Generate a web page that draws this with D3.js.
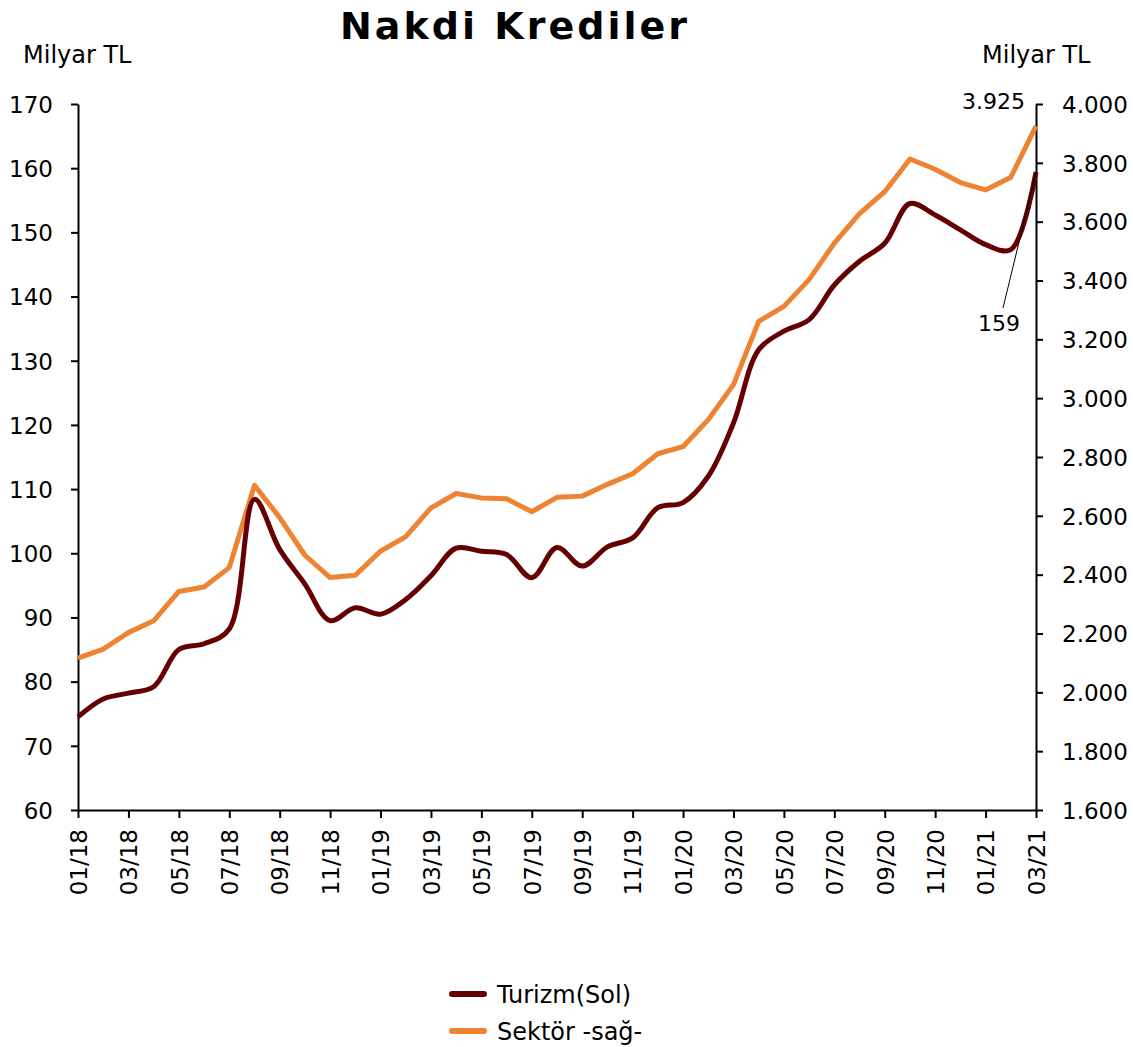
<!DOCTYPE html>
<html lang="tr">
<head>
<meta charset="UTF-8">
<title>Nakdi Krediler</title>
<script src="https://d3js.org/d3.v7.min.js"></script>
<style>
  body { margin: 0; background: #fff; }
  svg { display: block; font-family: "DejaVu Sans", Verdana, sans-serif; }
  .axis path, .axis line { stroke: #000; stroke-width: 2; }
</style>
</head>
<body>
<div id="chart"></div>
<script>
// months (MM/YY)
const months = [
  "01/18","02/18","03/18","04/18","05/18","06/18","07/18","08/18","09/18","10/18","11/18","12/18",
  "01/19","02/19","03/19","04/19","05/19","06/19","07/19","08/19","09/19","10/19","11/19","12/19",
  "01/20","02/20","03/20","04/20","05/20","06/20","07/20","08/20","09/20","10/20","11/20","12/20",
  "01/21","02/21","03/21"
];

// Turizm, left axis (milyar TL)
const turizm = [
  74.5, 77.3, 78.2, 79.2, 85.0, 85.9, 88.2, 108.4, 100.6, 95.2, 89.5, 91.5,
  90.5, 92.8, 96.5, 100.8, 100.3, 99.8, 96.2, 100.9, 98.0, 101.0, 102.4, 107.1,
  107.9, 112.0, 120.3, 131.7, 134.6, 136.4, 141.8, 145.5, 148.3, 154.5, 152.7, 150.4,
  148.1, 147.3, 159.4
];

// Sektör, right axis (milyar TL)
const sektor = [
  2116, 2147, 2203, 2243, 2343, 2358, 2424, 2704, 2594, 2466, 2390, 2398,
  2480, 2529, 2627, 2676, 2661, 2658, 2614, 2663, 2667, 2707, 2743, 2811,
  2835, 2927, 3046, 3261, 3312, 3403, 3527, 3627, 3702, 3813, 3778, 3733,
  3708, 3751, 3925
];

const leftTicks = [60, 70, 80, 90, 100, 110, 120, 130, 140, 150, 160, 170];
const rightTicks = [1600, 1800, 2000, 2200, 2400, 2600, 2800, 3000, 3200, 3400, 3600, 3800, 4000];
const xTicks = months.filter((m, i) => i % 2 === 0);

const width = 1133, height = 1047;
const plotLeft = 78, plotRight = 1036, plotTop = 104, plotBottom = 810;
const font = '"DejaVu Sans", Verdana, sans-serif';

const trFormat = d3.formatLocale({ decimal: ",", thousands: ".", grouping: [3], currency: ["", ""] }).format(",.0f");

const svg = d3.select("#chart").append("svg")
  .attr("width", width)
  .attr("height", height);

const x = d3.scalePoint().domain(months).range([plotLeft, plotRight]);
const yL = d3.scaleLinear().domain([60, 170]).range([plotBottom, plotTop]);
const yR = d3.scaleLinear().domain([1600, 4000]).range([plotBottom, plotTop]);

// title
svg.append("text")
  .attr("x", 515)
  .attr("y", 39)
  .attr("text-anchor", "middle")
  .attr("font-size", 38)
  .attr("font-weight", "bold")
  .attr("letter-spacing", 3)
  .text("Nakdi Krediler");

svg.append("text")
  .attr("x", 23).attr("y", 63)
  .attr("font-size", 24)
  .text("Milyar TL");

svg.append("text")
  .attr("x", 982).attr("y", 63)
  .attr("font-size", 24)
  .text("Milyar TL");

// axes
const gL = svg.append("g")
  .attr("class", "axis")
  .attr("transform", `translate(${plotLeft},0)`)
  .call(d3.axisLeft(yL).tickValues(leftTicks).tickSize(7).tickSizeOuter(0).tickPadding(18));

const gR = svg.append("g")
  .attr("class", "axis")
  .attr("transform", `translate(${plotRight},0)`)
  .call(d3.axisRight(yR).tickValues(rightTicks).tickFormat(trFormat).tickSize(7).tickSizeOuter(0).tickPadding(19));

const gX = svg.append("g")
  .attr("class", "axis")
  .attr("transform", `translate(0,${plotBottom})`)
  .call(d3.axisBottom(x).tickValues(xTicks).tickSize(8).tickSizeOuter(0).tickPadding(10));

gX.selectAll("text")
  .attr("transform", "rotate(-90)")
  .attr("text-anchor", "end")
  .attr("x", -19)
  .attr("y", 0)
  .attr("dy", "0.36em");

[gL, gR, gX].forEach(g => {
  g.attr("font-family", font).attr("font-size", 23);
  g.selectAll("text").attr("fill", "#000");
});
gL.selectAll("text").attr("dy", "0.36em");
gR.selectAll("text").attr("dy", "0.36em");

// lines
const sektorLine = d3.line()
  .x((d, i) => x(months[i]))
  .y(d => yR(d));

const turizmLine = d3.line()
  .x((d, i) => x(months[i]))
  .y(d => yL(d))
  .curve(d3.curveCatmullRom.alpha(0.5));

svg.append("path")
  .datum(sektor)
  .attr("fill", "none")
  .attr("stroke", "#EE8433")
  .attr("stroke-width", 5)
  .attr("stroke-linejoin", "round")
  .attr("d", sektorLine);

svg.append("path")
  .datum(turizm)
  .attr("fill", "none")
  .attr("stroke", "#660000")
  .attr("stroke-width", 5)
  .attr("stroke-linejoin", "round")
  .attr("d", turizmLine);

// labels on last points
const last = months.length - 1;
svg.append("text")
  .attr("x", x(months[last]) - 11)
  .attr("y", yR(sektor[last]) - 17)
  .attr("text-anchor", "end")
  .attr("font-size", 22)
  .text(d3.format(".3f")(sektor[last] / 1000));

svg.append("line")
  .attr("x1", x(months[last]))
  .attr("y1", yL(turizm[last]))
  .attr("x2", 1003)
  .attr("y2", 308)
  .attr("stroke", "#000")
  .attr("stroke-width", 1);

svg.append("text")
  .attr("x", 999)
  .attr("y", 331)
  .attr("text-anchor", "middle")
  .attr("font-size", 22)
  .text(Math.floor(turizm[last]));

// legend
const legend = [
  { name: "Turizm(Sol)", color: "#660000" },
  { name: "Sektör -sağ-", color: "#EE8433" }
];
const lg = svg.selectAll(".legend")
  .data(legend)
  .enter().append("g")
  .attr("class", "legend")
  .attr("transform", (d, i) => `translate(450,${994 + i * 37})`);
lg.append("line")
  .attr("x1", 2).attr("x2", 34)
  .attr("stroke", d => d.color)
  .attr("stroke-width", 6)
  .attr("stroke-linecap", "round");
lg.append("text")
  .attr("x", 47)
  .attr("dy", "0.36em")
  .attr("font-size", 24)
  .text(d => d.name);
</script>
</body>
</html>
